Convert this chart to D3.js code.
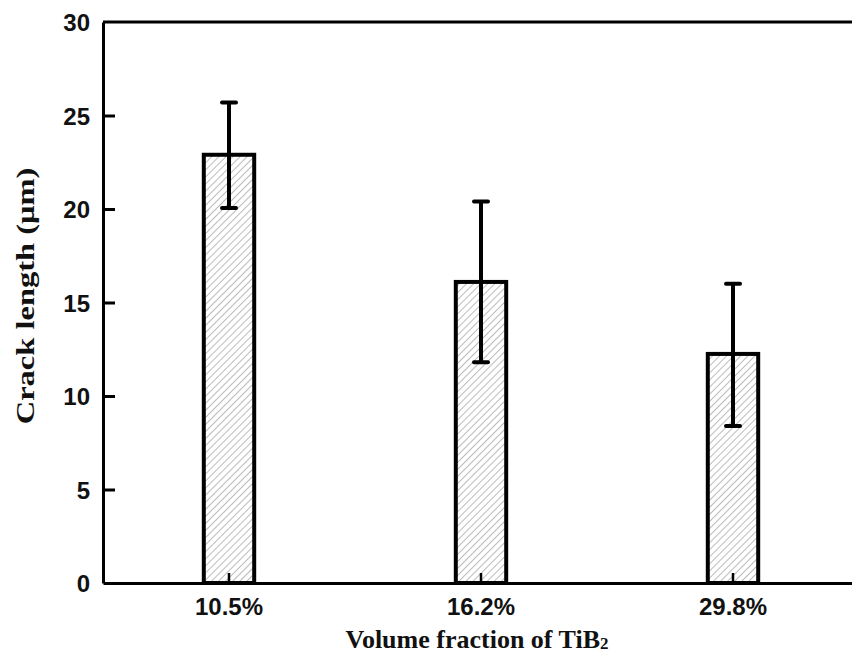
<!DOCTYPE html>
<html lang="en">
  <head>
    <meta charset="utf-8">
    <title>crack length</title>
    <style>
body { margin: 0; background: #fff; }
svg { display: block; }
.tick text { font: bold 24px "Liberation Sans", Arial, sans-serif; fill: #111; }
.axis-title { font: bold 26px "Liberation Serif", "Times New Roman", serif; fill: #111; }
    </style>
  </head>
  <body>
    <svg></svg>
    <script src="https://cdn.jsdelivr.net/npm/d3@7"></script>
    <script>

    // data
    let categories = ["10.5%", "16.2%", "29.8%"];
    let means = [22.9, 16.1, 12.25];
    let errLow = [20.05, 11.8, 8.4];
    let errHigh = [25.7, 20.4, 16.0];
    let yTicks = [0, 5, 10, 15, 20, 25, 30];

    let width = 852,
        height = 659,
        plotLeft = 103,
        plotTop = 22,
        plotBottom = 583,
        plotRight = 859;

    let svg = d3.select("svg")
        .attr("width", width)
        .attr("height", height);

    let defs = svg.append("defs");
    let pat = defs.append("pattern")
        .attr("id", "hatch")
        .attr("patternUnits", "userSpaceOnUse")
        .attr("width", 5)
        .attr("height", 5)
        .attr("patternTransform", "rotate(45)");
    pat.append("rect").attr("width", 5).attr("height", 5).attr("fill", "#fff");
    pat.append("line")
        .attr("x1", 0).attr("y1", 0).attr("x2", 0).attr("y2", 5)
        .attr("stroke", "#777").attr("stroke-width", 1);

    let x = d3.scaleBand()
        .domain(categories)
        .range([plotLeft, plotRight])
        .paddingInner(0.8)
        .paddingOuter(0.4);

    let y = d3.scaleLinear()
        .domain([0, 30])
        .range([plotBottom, plotTop]);

    // bars
    svg.selectAll(".bar")
        .data(categories)
      .enter().append("rect")
        .attr("class", "bar")
        .attr("x", d => x(d))
        .attr("y", (d, i) => y(means[i]))
        .attr("width", x.bandwidth())
        .attr("height", (d, i) => y(0) - y(means[i]))
        .attr("fill", "url(#hatch)")
        .attr("stroke", "#000")
        .attr("stroke-width", 4);

    // error bars
    let err = svg.selectAll(".err")
        .data(categories)
      .enter().append("g")
        .attr("class", "err")
        .attr("transform", d => "translate(" + (x(d) + x.bandwidth() / 2) + ",0)");

    err.append("line")
        .attr("y1", (d, i) => y(errLow[i]))
        .attr("y2", (d, i) => y(errHigh[i]))
        .attr("stroke", "#000").attr("stroke-width", 4);

    err.append("line")
        .attr("x1", -7).attr("x2", 7)
        .attr("y1", (d, i) => y(errHigh[i]))
        .attr("y2", (d, i) => y(errHigh[i]))
        .attr("stroke", "#000").attr("stroke-width", 4).attr("stroke-linecap", "round");

    err.append("line")
        .attr("x1", -7).attr("x2", 7)
        .attr("y1", (d, i) => y(errLow[i]))
        .attr("y2", (d, i) => y(errLow[i]))
        .attr("stroke", "#000").attr("stroke-width", 4).attr("stroke-linecap", "round");

    // top frame line
    svg.append("line")
        .attr("x1", plotLeft).attr("x2", width)
        .attr("y1", plotTop).attr("y2", plotTop)
        .attr("stroke", "#000").attr("stroke-width", 3);

    // axes, ticks pointing inward
    let yAxis = d3.axisLeft(y)
        .tickValues(yTicks)
        .tickSize(-12)
        .tickPadding(13)
        .tickSizeOuter(0);

    let gy = svg.append("g")
        .attr("transform", "translate(" + plotLeft + ",0)")
        .call(yAxis);
    gy.select(".domain").attr("stroke-width", 3);
    gy.selectAll(".tick line").attr("stroke-width", 3);
    gy.selectAll(".tick text").attr("dy", "0.36em");
    gy.selectAll(".tick").filter(d => d === 0 || d === 30).select("line").remove();

    let xAxis = d3.axisBottom(x)
        .tickSize(-10)
        .tickPadding(15)
        .tickSizeOuter(0);

    let gx = svg.append("g")
        .attr("transform", "translate(0," + plotBottom + ")")
        .call(xAxis);
    gx.select(".domain").attr("stroke-width", 3);
    gx.selectAll(".tick line").attr("stroke-width", 2.5);

    // axis titles (the y title is drawn stretched along its length, as in the original)
    svg.append("text")
        .attr("class", "axis-title")
        .attr("transform", "translate(34,296) rotate(-90) scale(1.3,1)")
        .attr("text-anchor", "middle")
        .style("font-size", "25px")
        .text("Crack length (μm)");

    let xt = svg.append("text")
        .attr("class", "axis-title")
        .attr("x", 477)
        .attr("y", 648)
        .attr("text-anchor", "middle");
    xt.append("tspan").text("Volume fraction of TiB");
    xt.append("tspan").attr("font-size", "17px").attr("dy", "1").text("2");

    </script>
  </body>
</html>
